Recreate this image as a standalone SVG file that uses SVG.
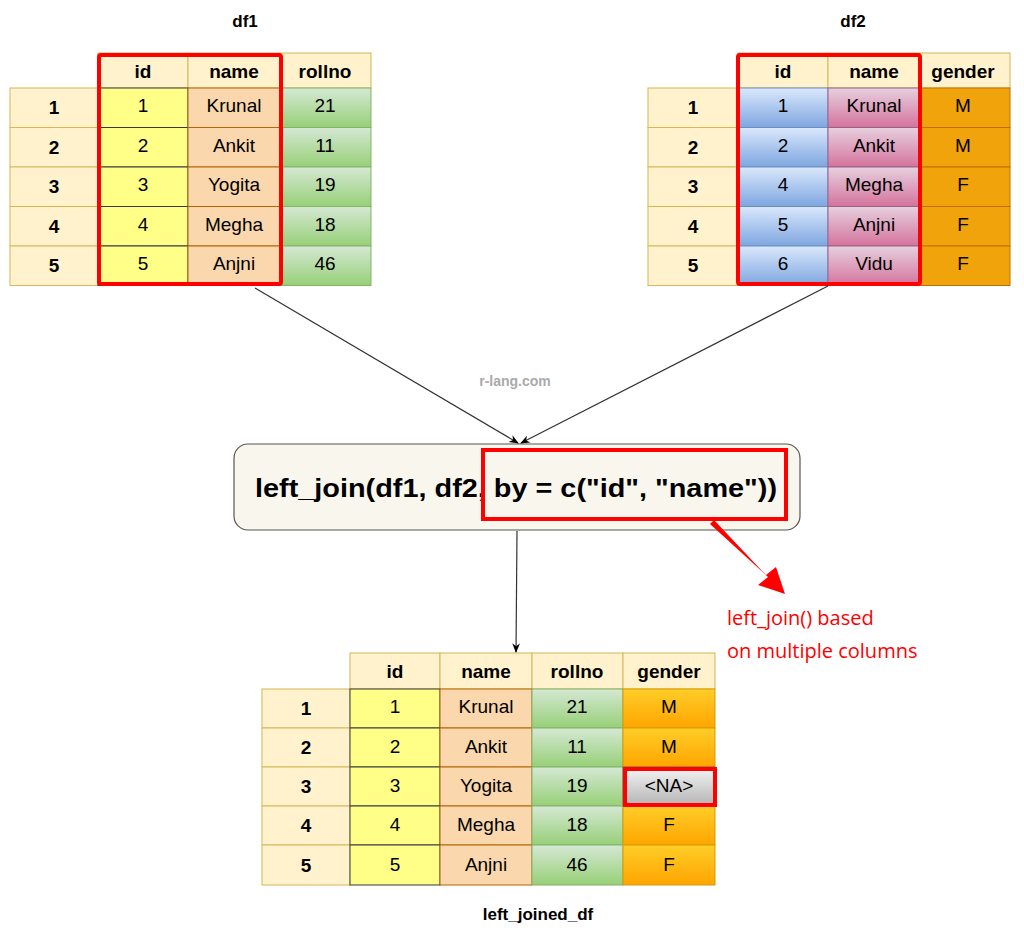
<svg xmlns="http://www.w3.org/2000/svg" width="1024" height="931" viewBox="0 0 1024 931">
<defs>
<linearGradient id="gGreen" x1="0" y1="0" x2="0" y2="1"><stop offset="0" stop-color="#d5e8d4"/><stop offset="1" stop-color="#97d077"/></linearGradient>
<linearGradient id="gBlue" x1="0" y1="0" x2="0" y2="1"><stop offset="0" stop-color="#dae8fc"/><stop offset="1" stop-color="#7ea6e0"/></linearGradient>
<linearGradient id="gPink" x1="0" y1="0" x2="0" y2="1"><stop offset="0" stop-color="#e6d0de"/><stop offset="1" stop-color="#d5739d"/></linearGradient>
<linearGradient id="gOrange" x1="0" y1="0" x2="0" y2="1"><stop offset="0" stop-color="#ffcd28"/><stop offset="1" stop-color="#ffa500"/></linearGradient>
<linearGradient id="gGray" x1="0" y1="0" x2="0" y2="1"><stop offset="0" stop-color="#f5f5f5"/><stop offset="1" stop-color="#b3b3b3"/></linearGradient>
<marker id="ah" viewBox="0 0 10 10" refX="9" refY="5" markerWidth="8" markerHeight="8" orient="auto"><path d="M0,1 L10,5 L0,9 L3,5 Z" fill="#000"/></marker>
</defs>
<style>
text{font-family:"Liberation Sans",Arial,sans-serif;text-anchor:middle;fill:#000}
.c{font-size:19px}
.b{font-size:19px;font-weight:bold}
.t{font-size:17px;font-weight:bold}
.hd{fill:#fff2cc;stroke:#d6b656;stroke-width:1}
.ix{fill:#fff2cc;stroke:#d6b656;stroke-width:1}
.y{fill:#ffff88;stroke:#36393d;stroke-width:1}
.p{fill:#fad7ac;stroke:#b46504;stroke-width:1}
.g{fill:url(#gGreen);stroke:#82b366;stroke-width:1}
.bl{fill:url(#gBlue);stroke:#6c8ebf;stroke-width:1}
.pk{fill:url(#gPink);stroke:#996185;stroke-width:1}
.o{fill:#f0a30a;stroke:#bd7000;stroke-width:1}
.og{fill:url(#gOrange);stroke:#d79b00;stroke-width:1}
.red{fill:none;stroke:#ff0000;stroke-width:4}
.ln{stroke:#333;stroke-width:1.2;fill:none}
</style>

<text class="t" x="245" y="27">df1</text>
<text class="t" x="853" y="27">df2</text>
<text class="t" x="538" y="920">left_joined_df</text>
<text x="515" y="386" style="font-size:14px;font-weight:bold;fill:#aaa">r-lang.com</text>

<g id="df1">
<rect class="hd" x="98" y="53" width="90" height="35"/><rect class="hd" x="188" y="53" width="92" height="35"/><rect class="hd" x="280" y="53" width="91" height="35"/>
<text class="b" x="143" y="78">id</text><text class="b" x="234" y="78">name</text><text class="b" x="325" y="78">rollno</text>
<g>
<rect class="ix" x="10" y="88" width="88" height="39.5"/><rect class="y" x="98" y="88" width="90" height="39.5"/><rect class="p" x="188" y="88" width="92" height="39.5"/><rect class="g" x="280" y="88" width="91" height="39.5"/>
<rect class="ix" x="10" y="127.5" width="88" height="39.5"/><rect class="y" x="98" y="127.5" width="90" height="39.5"/><rect class="p" x="188" y="127.5" width="92" height="39.5"/><rect class="g" x="280" y="127.5" width="91" height="39.5"/>
<rect class="ix" x="10" y="167" width="88" height="39.5"/><rect class="y" x="98" y="167" width="90" height="39.5"/><rect class="p" x="188" y="167" width="92" height="39.5"/><rect class="g" x="280" y="167" width="91" height="39.5"/>
<rect class="ix" x="10" y="206.5" width="88" height="39.5"/><rect class="y" x="98" y="206.5" width="90" height="39.5"/><rect class="p" x="188" y="206.5" width="92" height="39.5"/><rect class="g" x="280" y="206.5" width="91" height="39.5"/>
<rect class="ix" x="10" y="246" width="88" height="39.5"/><rect class="y" x="98" y="246" width="90" height="39.5"/><rect class="p" x="188" y="246" width="92" height="39.5"/><rect class="g" x="280" y="246" width="91" height="39.5"/>
</g>
<text class="b" x="54" y="114">1</text><text class="c" x="143" y="112">1</text><text class="c" x="234" y="112">Krunal</text><text class="c" x="325" y="112">21</text>
<text class="b" x="54" y="154">2</text><text class="c" x="143" y="152">2</text><text class="c" x="234" y="152">Ankit</text><text class="c" x="325" y="152">11</text>
<text class="b" x="54" y="193">3</text><text class="c" x="143" y="191">3</text><text class="c" x="234" y="191">Yogita</text><text class="c" x="325" y="191">19</text>
<text class="b" x="54" y="233">4</text><text class="c" x="143" y="231">4</text><text class="c" x="234" y="231">Megha</text><text class="c" x="325" y="231">18</text>
<text class="b" x="54" y="272">5</text><text class="c" x="143" y="270">5</text><text class="c" x="234" y="270">Anjni</text><text class="c" x="325" y="270">46</text>
<rect class="red" x="99" y="55" width="182" height="229" rx="2"/>
</g>

<g id="df2">
<rect class="hd" x="738" y="53" width="90" height="35"/><rect class="hd" x="828" y="53" width="92" height="35"/><rect class="hd" x="920" y="53" width="90" height="35"/>
<text class="b" x="783" y="78">id</text><text class="b" x="874" y="78">name</text><text class="b" x="963" y="78">gender</text>
<rect class="ix" x="648" y="88" width="90" height="39.5"/><rect class="bl" x="738" y="88" width="90" height="39.5"/><rect class="pk" x="828" y="88" width="92" height="39.5"/><rect class="o" x="920" y="88" width="90" height="39.5"/>
<rect class="ix" x="648" y="127.5" width="90" height="39.5"/><rect class="bl" x="738" y="127.5" width="90" height="39.5"/><rect class="pk" x="828" y="127.5" width="92" height="39.5"/><rect class="o" x="920" y="127.5" width="90" height="39.5"/>
<rect class="ix" x="648" y="167" width="90" height="39.5"/><rect class="bl" x="738" y="167" width="90" height="39.5"/><rect class="pk" x="828" y="167" width="92" height="39.5"/><rect class="o" x="920" y="167" width="90" height="39.5"/>
<rect class="ix" x="648" y="206.5" width="90" height="39.5"/><rect class="bl" x="738" y="206.5" width="90" height="39.5"/><rect class="pk" x="828" y="206.5" width="92" height="39.5"/><rect class="o" x="920" y="206.5" width="90" height="39.5"/>
<rect class="ix" x="648" y="246" width="90" height="39.5"/><rect class="bl" x="738" y="246" width="90" height="39.5"/><rect class="pk" x="828" y="246" width="92" height="39.5"/><rect class="o" x="920" y="246" width="90" height="39.5"/>
<text class="b" x="693" y="114">1</text><text class="c" x="783" y="112">1</text><text class="c" x="874" y="112">Krunal</text><text class="c" x="963" y="112">M</text>
<text class="b" x="693" y="154">2</text><text class="c" x="783" y="152">2</text><text class="c" x="874" y="152">Ankit</text><text class="c" x="963" y="152">M</text>
<text class="b" x="693" y="193">3</text><text class="c" x="783" y="191">4</text><text class="c" x="874" y="191">Megha</text><text class="c" x="963" y="191">F</text>
<text class="b" x="693" y="233">4</text><text class="c" x="783" y="231">5</text><text class="c" x="874" y="231">Anjni</text><text class="c" x="963" y="231">F</text>
<text class="b" x="693" y="272">5</text><text class="c" x="783" y="270">6</text><text class="c" x="874" y="270">Vidu</text><text class="c" x="963" y="270">F</text>
<rect class="red" x="738" y="55" width="182" height="229" rx="2"/>
</g>

<g id="join">
<rect x="234" y="444" width="566" height="86" rx="14" fill="#f9f7ed" stroke="#555" stroke-width="1.2"/>
<text x="516" y="497" textLength="522" lengthAdjust="spacingAndGlyphs" style="font-size:26px;font-weight:bold">left_join(df1, df2, by = c("id", "name"))</text>
<rect class="red" x="483" y="450" width="303" height="69"/>
</g>

<g id="result">
<rect class="hd" x="350" y="653" width="90" height="36"/><rect class="hd" x="440" y="653" width="92" height="36"/><rect class="hd" x="532" y="653" width="91" height="36"/><rect class="hd" x="623" y="653" width="92" height="36"/>
<text class="b" x="395" y="678">id</text><text class="b" x="486" y="678">name</text><text class="b" x="577" y="678">rollno</text><text class="b" x="669" y="678">gender</text>
<rect class="ix" x="262" y="689" width="88" height="39"/><rect class="y" x="350" y="689" width="90" height="39"/><rect class="p" x="440" y="689" width="92" height="39"/><rect class="g" x="532" y="689" width="91" height="39"/><rect class="og" x="623" y="689" width="92" height="39"/>
<rect class="ix" x="262" y="728" width="88" height="39"/><rect class="y" x="350" y="728" width="90" height="39"/><rect class="p" x="440" y="728" width="92" height="39"/><rect class="g" x="532" y="728" width="91" height="39"/><rect class="og" x="623" y="728" width="92" height="39"/>
<rect class="ix" x="262" y="767" width="88" height="39"/><rect class="y" x="350" y="767" width="90" height="39"/><rect class="p" x="440" y="767" width="92" height="39"/><rect class="g" x="532" y="767" width="91" height="39"/><rect x="623" y="767" width="92" height="39" fill="url(#gGray)" stroke="#666"/>
<rect class="ix" x="262" y="806" width="88" height="39"/><rect class="y" x="350" y="806" width="90" height="39"/><rect class="p" x="440" y="806" width="92" height="39"/><rect class="g" x="532" y="806" width="91" height="39"/><rect class="og" x="623" y="806" width="92" height="39"/>
<rect class="ix" x="262" y="845" width="88" height="40"/><rect class="y" x="350" y="845" width="90" height="40"/><rect class="p" x="440" y="845" width="92" height="40"/><rect class="g" x="532" y="845" width="91" height="40"/><rect class="og" x="623" y="845" width="92" height="40"/>
<text class="b" x="306" y="715">1</text><text class="c" x="395" y="713">1</text><text class="c" x="486" y="713">Krunal</text><text class="c" x="577" y="713">21</text><text class="c" x="669" y="713">M</text>
<text class="b" x="306" y="754">2</text><text class="c" x="395" y="753">2</text><text class="c" x="486" y="753">Ankit</text><text class="c" x="577" y="753">11</text><text class="c" x="669" y="753">M</text>
<text class="b" x="306" y="793">3</text><text class="c" x="395" y="792">3</text><text class="c" x="486" y="792">Yogita</text><text class="c" x="577" y="792">19</text><text class="c" x="669" y="792">&lt;NA&gt;</text>
<text class="b" x="306" y="832">4</text><text class="c" x="395" y="831">4</text><text class="c" x="486" y="831">Megha</text><text class="c" x="577" y="831">18</text><text class="c" x="669" y="831">F</text>
<text class="b" x="306" y="872">5</text><text class="c" x="395" y="871">5</text><text class="c" x="486" y="871">Anjni</text><text class="c" x="577" y="871">46</text><text class="c" x="669" y="871">F</text>
<rect class="red" x="625" y="769" width="90" height="36"/>
</g>

<g id="connectors">
<line class="ln" x1="255" y1="288" x2="518" y2="443" marker-end="url(#ah)"/>
<line class="ln" x1="828" y1="286" x2="521" y2="443" marker-end="url(#ah)"/>
<line class="ln" x1="517" y1="531" x2="516" y2="652" marker-end="url(#ah)"/>
<path d="M710,524 L768,577 L758,585 L785,594 L776,567 L766,575 L714,520 Z" fill="#ff0000"/>
</g>
<text x="727" y="625" style="font-family:'Open Sans','Noto Sans',sans-serif;font-size:20px;fill:#ff0000;text-anchor:start">left_join() based</text>
<text x="727" y="658" style="font-family:'Open Sans','Noto Sans',sans-serif;font-size:20px;fill:#ff0000;text-anchor:start">on multiple columns</text>
</svg>
